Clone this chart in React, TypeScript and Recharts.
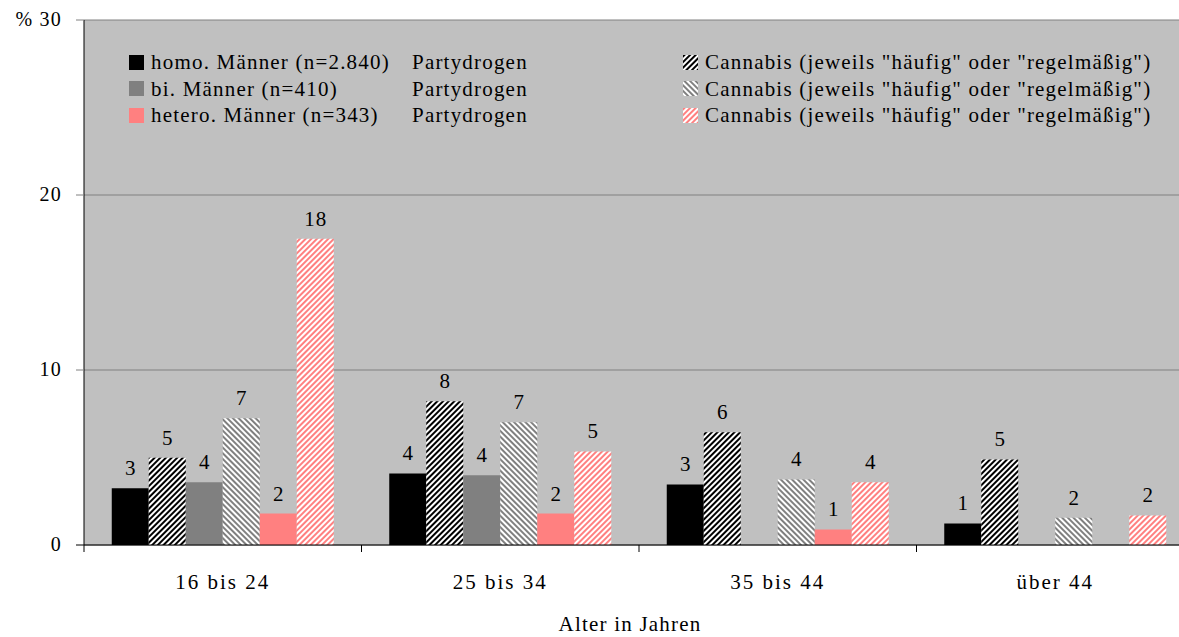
import React from 'react';
import { BarChart, Bar, XAxis, YAxis, CartesianGrid, Legend, LabelList } from 'recharts';

const categories = ['16 bis 24', '25 bis 34', '35 bis 44', 'über 44'];
const homoParty: (number | null)[] = [3.25, 4.09, 3.46, 1.23];
const homoCannabis: (number | null)[] = [4.99, 8.21, 6.44, 4.89];
const biParty: (number | null)[] = [3.58, 3.98, null, null];
const biCannabis: (number | null)[] = [7.24, 7.01, 3.75, 1.56];
const heteroParty: (number | null)[] = [1.8, 1.8, 0.89, null];
const heteroCannabis: (number | null)[] = [17.5, 5.35, 3.59, 1.69];
const yTicks = [0, 10, 20, 30];
const groupNames = ['homo. Männer (n=2.840)', 'bi. Männer (n=410)', 'hetero. Männer (n=343)'];
const partyLabel = 'Partydrogen';
const cannabisLabel = 'Cannabis (jeweils "häufig" oder "regelmäßig")';
const xTitle = 'Alter in Jahren';

const data = categories.map((c, i) => ({
  cat: c,
  homoParty: homoParty[i],
  homoCannabis: homoCannabis[i],
  biParty: biParty[i],
  biCannabis: biCannabis[i],
  heteroParty: heteroParty[i],
  heteroCannabis: heteroCannabis[i],
}));

const FONT = "'Liberation Serif', 'DejaVu Serif', serif";
const LS = 1.2;

const series = [
  { key: 'homoParty', fill: '#000000', name: `${groupNames[0]} ${partyLabel}` },
  { key: 'homoCannabis', fill: 'url(#hatchBlack)', name: cannabisLabel },
  { key: 'biParty', fill: '#808080', name: `${groupNames[1]} ${partyLabel}` },
  { key: 'biCannabis', fill: 'url(#hatchGray)', name: cannabisLabel },
  { key: 'heteroParty', fill: '#ff8080', name: `${groupNames[2]} ${partyLabel}` },
  { key: 'heteroCannabis', fill: 'url(#hatchPink)', name: cannabisLabel },
];

const partyFills = ['#000000', '#808080', '#ff8080'];
const cannabisFills = ['url(#hatchBlack)', 'url(#hatchGray)', 'url(#hatchPink)'];

const ValueLabel = (props: any) => {
  const { x, y, width, value } = props;
  if (value === null || value === undefined) return null;
  return (
    <text x={x + width / 2 + 0.6} y={y - 13} textAnchor="middle" fontFamily={FONT} fontSize={21} fill="#000" style={{ letterSpacing: LS }}>
      {Math.round(value)}
    </text>
  );
};

const YTick = (props: any) => {
  const { x, y, payload } = props;
  const v = payload.value;
  return (
    <g>
      <line x1={x + 14} x2={x + 22} y1={y} y2={y} stroke={v === 0 ? '#000' : '#808080'} strokeWidth={1} />
      <text x={x} y={y + 6} textAnchor="end" fontFamily={FONT} fontSize={20} fill="#000" style={{ letterSpacing: LS }}>
        {v === 30 ? '% 30' : String(v)}
      </text>
    </g>
  );
};

const XTick = (props: any) => {
  const { x, y, payload } = props;
  const off = payload && payload.offset ? payload.offset : 138.75;
  return (
    <g>
      <line x1={x - off} x2={x - off} y1={y} y2={y + 7} stroke="#000" strokeWidth={1} />
      <text x={x} y={y + 44} textAnchor="middle" fontFamily={FONT} fontSize={21} fill="#000" style={{ letterSpacing: 2 }}>
        {payload.value}
      </text>
    </g>
  );
};

const XTitle = (props: any) => {
  const vb = props.viewBox || {};
  const cx = (vb.x || 0) + (vb.width || 0) / 2 - 9;
  const yy = (vb.y || 0) + 86;
  return (
    <text x={cx} y={yy} textAnchor="middle" fontFamily={FONT} fontSize={21} fill="#000" style={{ letterSpacing: LS }}>
      {xTitle}
    </text>
  );
};

const rowH = 26.5;

const LegendContent = () => (
  <div style={{ position: 'relative', width: 1194, height: 80, fontFamily: FONT, fontSize: 21, color: '#000', lineHeight: '26px', letterSpacing: LS }}>
    {groupNames.map((g, i) => (
      <React.Fragment key={i}>
        <div style={{ position: 'absolute', top: i * rowH, left: 129, height: 26, display: 'flex', alignItems: 'center', whiteSpace: 'nowrap' }}>
          <svg width={15} height={15} style={{ display: 'block' }}>
            <rect width={15} height={15} fill={partyFills[i]} />
          </svg>
          <span style={{ marginLeft: 7 }}>{g}</span>
        </div>
        <div style={{ position: 'absolute', top: i * rowH, left: 412, height: 26, whiteSpace: 'nowrap' }}>
          {partyLabel}
        </div>
        <div style={{ position: 'absolute', top: i * rowH, left: 683, height: 26, display: 'flex', alignItems: 'center', whiteSpace: 'nowrap' }}>
          <svg width={15} height={15} style={{ display: 'block' }}>
            <rect width={15} height={15} fill={cannabisFills[i]} />
          </svg>
          <span style={{ marginLeft: 7 }}>{cannabisLabel}</span>
        </div>
      </React.Fragment>
    ))}
  </div>
);

export default function App() {
  return (
    <div style={{ position: 'absolute', left: 0, top: 0, width: 1179, height: 637, overflow: 'hidden', background: '#fff' }}>
      <BarChart
        width={1194}
        height={637}
        data={data}
        margin={{ top: 20, right: 0, bottom: 0, left: 0 }}
        barGap={0}
        barCategoryGap="10%"
      >
        <defs>
          <pattern id="hatchBlack" patternUnits="userSpaceOnUse" width={4} height={4} patternTransform="rotate(45)">
            <rect width={4} height={4} fill="#ffffff" />
            <rect width={2} height={4} fill="#000000" />
          </pattern>
          <pattern id="hatchGray" patternUnits="userSpaceOnUse" width={4} height={4} patternTransform="rotate(-45)">
            <rect width={4} height={4} fill="#ffffff" />
            <rect width={2} height={4} fill="#808080" />
          </pattern>
          <pattern id="hatchPink" patternUnits="userSpaceOnUse" width={4} height={4} patternTransform="rotate(45)">
            <rect width={4} height={4} fill="#ffffff" />
            <rect width={2} height={4} fill="#ff8080" />
          </pattern>
        </defs>
        <CartesianGrid vertical={false} stroke="#808080" fill="#c0c0c0" fillOpacity={1} />
        <XAxis
          dataKey="cat"
          height={92}
          axisLine={{ stroke: '#000' }}
          tickLine={false}
          tickSize={0}
          tickMargin={0}
          tick={<XTick />}
          interval={0}
          label={<XTitle />}
        />
        <YAxis
          width={84}
          domain={[0, 30]}
          ticks={yTicks}
          axisLine={{ stroke: '#000' }}
          tickLine={false}
          tickSize={8}
          tickMargin={14}
          tick={<YTick />}
          interval={0}
        />
        <Legend
          layout="vertical"
          align="center"
          verticalAlign="middle"
          wrapperStyle={{ top: 49, left: 0, width: 1194, height: 80 }}
          content={<LegendContent />}
        />
        {series.map((s) => (
          <Bar key={s.key} dataKey={s.key} name={s.name} fill={s.fill} isAnimationActive={false}>
            <LabelList dataKey={s.key} content={<ValueLabel />} />
          </Bar>
        ))}
      </BarChart>
    </div>
  );
}
